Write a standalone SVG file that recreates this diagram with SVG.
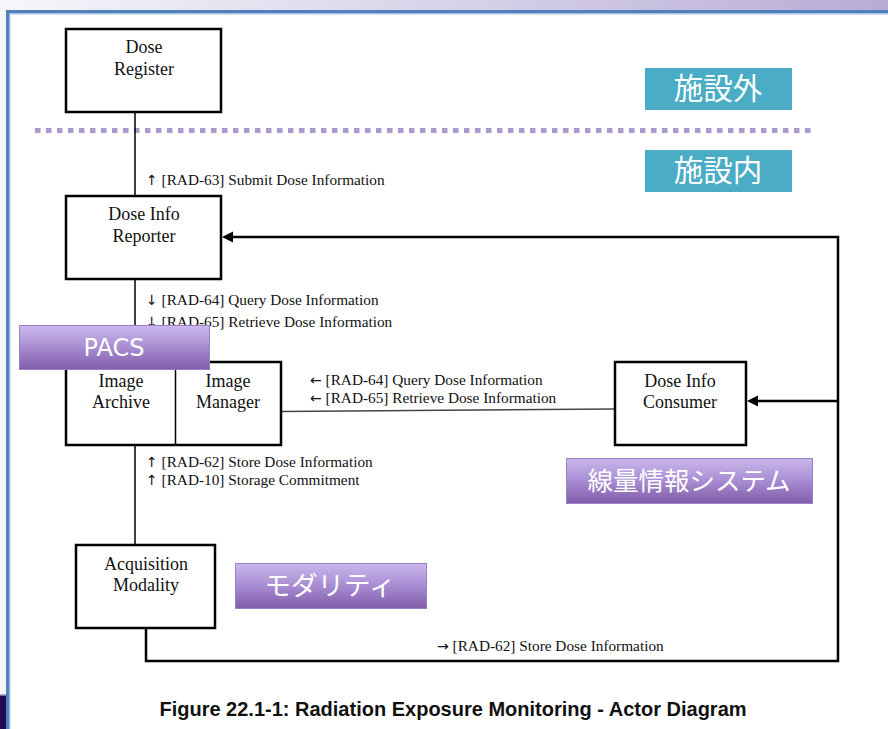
<svg xmlns="http://www.w3.org/2000/svg" width="888" height="729" viewBox="0 0 888 729">
  <defs>
    <linearGradient id="topBand" x1="0" y1="0" x2="1" y2="0">
      <stop offset="0" stop-color="#f6f6fa"/>
      <stop offset="0.5" stop-color="#d9d3ea"/>
      <stop offset="1" stop-color="#b7acd6"/>
    </linearGradient>
    <linearGradient id="purple" x1="0" y1="0" x2="0" y2="1">
      <stop offset="0" stop-color="#cbb8ec"/>
      <stop offset="0.5" stop-color="#a88cd2"/>
      <stop offset="1" stop-color="#805ca8"/>
    </linearGradient>
    <style>
      .actor { fill: #fff; stroke: #000; stroke-width: 2.5; }
      .name { font-family: "Liberation Serif", "Times New Roman", serif; font-size: 18px; fill: #111; text-anchor: middle; }
      .tx { font-family: "Liberation Serif", "Times New Roman", "DejaVu Serif", serif; font-size: 15.3px; fill: #111; }
      .ar { font-family: "DejaVu Sans", sans-serif; font-size: 14px; }
      .thin { fill: none; stroke: #000; stroke-width: 1.5; }
      .thick { fill: none; stroke: #000; stroke-width: 2.5; }
      .teal { fill: #4bacc6; }
      .violet { fill: url(#purple); stroke: #9a80c6; stroke-width: 1; }
      .jp { font-family: "Noto Sans CJK JP", "Noto Sans", sans-serif; fill: #fff; text-anchor: middle; }
      .pacs { font-family: "DejaVu Sans", Verdana, sans-serif; font-size: 24px; fill: #fff; text-anchor: middle; }
      .caption { font-family: "Liberation Sans", Arial, sans-serif; font-size: 20px; font-weight: bold; fill: #111; text-anchor: middle; }
    </style>
  </defs>

  <!-- page frame -->
  <rect x="0" y="0" width="888" height="729" fill="#fff"/>
  <rect x="0" y="0" width="888" height="10" fill="url(#topBand)"/>
  <rect x="0" y="0" width="6" height="729" fill="#f5f5fa"/>
  <rect x="6" y="10" width="882" height="3.5" fill="#4f81bd"/>
  <rect x="6" y="10" width="3.5" height="719" fill="#4f81bd"/>
  <rect x="9.5" y="13.5" width="878.5" height="1" fill="#a9c4e4"/>
  <rect x="9.5" y="13.5" width="1" height="715.5" fill="#a9c4e4"/>
  <rect x="0" y="694" width="6" height="1.5" fill="#b8acd6"/>
  <rect x="0" y="695.5" width="6" height="33.5" fill="#240a4e"/>

  <!-- boundary between outside and inside the facility -->
  <line x1="35" y1="130.5" x2="812" y2="130.5" stroke="#a999cf" stroke-width="5" stroke-dasharray="5.5 5.5"/>

  <!-- connectors -->
  <g id="connectors">
    <line class="thin" x1="135" y1="112" x2="135" y2="196"/>
    <line class="thin" x1="135" y1="279" x2="135" y2="362"/>
    <line class="thin" x1="135" y1="445" x2="135" y2="544"/>
    <line x1="282" y1="411.5" x2="614" y2="409" stroke="#444" stroke-width="1.5"/>
    <polyline class="thick" points="146,628 146,661 838,661 838,237 231,237"/>
    <path d="M222,237 L233,231.5 L233,242.5 z" fill="#000"/>
    <line class="thick" x1="838" y1="401" x2="756" y2="401"/>
    <path d="M747,401 L758,395.5 L758,406.5 z" fill="#000"/>

    <text class="tx" x="146" y="185"><tspan class="ar">↑</tspan> [RAD-63] Submit Dose Information</text>
    <text class="tx" x="146" y="305"><tspan class="ar">↓</tspan> [RAD-64] Query Dose Information</text>
    <text class="tx" x="146" y="327"><tspan class="ar">↓</tspan> [RAD-65] Retrieve Dose Information</text>
    <text class="tx" x="310" y="385"><tspan class="ar">←</tspan> [RAD-64] Query Dose Information</text>
    <text class="tx" x="310" y="403"><tspan class="ar">←</tspan> [RAD-65] Retrieve Dose Information</text>
    <text class="tx" x="146" y="467"><tspan class="ar">↑</tspan> [RAD-62] Store Dose Information</text>
    <text class="tx" x="146" y="485"><tspan class="ar">↑</tspan> [RAD-10] Storage Commitment</text>
    <text class="tx" x="437" y="651" font-size="14.7"><tspan class="ar" font-size="13">→</tspan> [RAD-62] Store Dose Information</text>
  </g>

  <!-- actors -->
  <g id="dose-register">
    <rect class="actor" x="66" y="29" width="155" height="83" stroke-width="3"/>
    <text class="name" x="144" y="53">Dose</text>
    <text class="name" x="144" y="75">Register</text>
  </g>

  <g id="dose-info-reporter">
    <rect class="actor" x="66" y="196" width="155" height="83"/>
    <text class="name" x="144" y="220">Dose Info</text>
    <text class="name" x="144" y="242">Reporter</text>
  </g>

  <g id="image-archive-manager">
    <rect class="actor" x="66" y="362" width="215" height="83"/>
    <line class="thin" x1="175.5" y1="362" x2="175.5" y2="445"/>
    <text class="name" x="121" y="387">Image</text>
    <text class="name" x="121" y="408">Archive</text>
    <text class="name" x="228" y="387">Image</text>
    <text class="name" x="228" y="408">Manager</text>
  </g>

  <g id="dose-info-consumer">
    <rect class="actor" x="615" y="362" width="131" height="83"/>
    <text class="name" x="680" y="387">Dose Info</text>
    <text class="name" x="680" y="408">Consumer</text>
  </g>

  <g id="acquisition-modality">
    <rect class="actor" x="76" y="545" width="139" height="83"/>
    <text class="name" x="146" y="570">Acquisition</text>
    <text class="name" x="146" y="591">Modality</text>
  </g>

  <!-- zone and system tags -->
  <g id="tag-outside">
    <rect class="teal" x="645" y="68" width="147" height="42"/>
    <text class="jp" x="718" y="99" font-size="29.5">施設外</text>
  </g>
  <g id="tag-inside">
    <rect class="teal" x="645" y="150" width="147" height="42"/>
    <text class="jp" x="718" y="181" font-size="29.5">施設内</text>
  </g>
  <g id="tag-pacs">
    <rect class="violet" x="19.5" y="325.5" width="190" height="44"/>
    <text class="pacs" x="114" y="356">PACS</text>
  </g>
  <g id="tag-dose-system">
    <rect class="violet" x="566.5" y="458.5" width="246" height="45"/>
    <text class="jp" x="689" y="490" font-size="25.5">線量情報システム</text>
  </g>
  <g id="tag-modality">
    <rect class="violet" x="235.5" y="563.5" width="191" height="45"/>
    <text class="jp" x="330" y="595" font-size="26.5">モダリティ</text>
  </g>

  <text class="caption" x="453" y="716">Figure 22.1-1: Radiation Exposure Monitoring - Actor Diagram</text>
</svg>
